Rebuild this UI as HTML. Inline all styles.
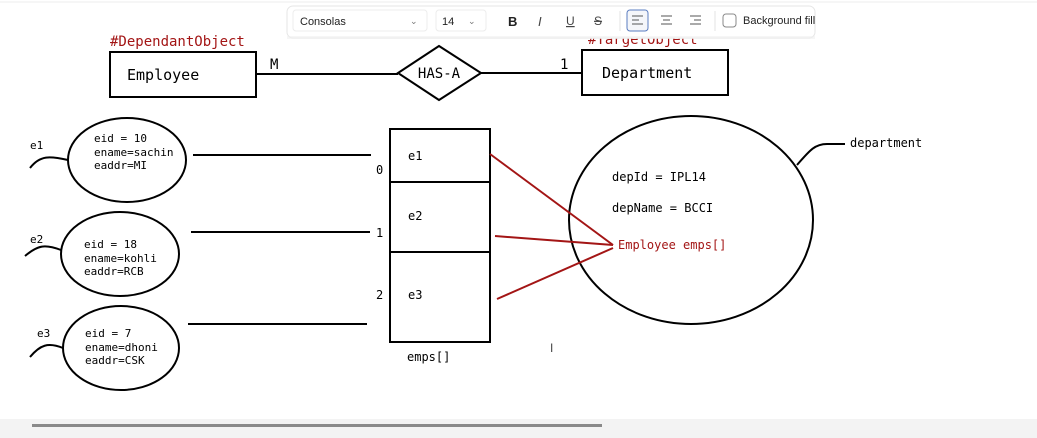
<!DOCTYPE html>
<html><head><meta charset="utf-8"><style>
html,body{margin:0;padding:0;background:#fff;}
svg{display:block;}
.m{font-family:"DejaVu Sans Mono","Liberation Mono",monospace;}
.s{font-family:"Liberation Sans","DejaVu Sans",sans-serif;}
</style></head><body>
<svg width="1037" height="438" viewBox="0 0 1037 438" xmlns="http://www.w3.org/2000/svg">
<rect width="1037" height="438" fill="#fff"/>
<line x1="0" y1="2" x2="1037" y2="2" stroke="#eee"/>
<g class="m" fill="#000" stroke="none">
<text x="110" y="46" font-size="14" fill="#a31515">#DependantObject</text>
<text x="588" y="44" font-size="14" fill="#a31515">#TargetObject</text>
</g>
<g stroke="#000" stroke-width="2" fill="none">
<rect x="110" y="52" width="146" height="45"/>
<line x1="256" y1="74" x2="398" y2="74"/>
<polygon points="398,73 439,46 481,73 439,100"/>
<line x1="481" y1="73" x2="582" y2="73"/>
<rect x="582" y="50" width="146" height="45"/>
<ellipse cx="127" cy="160" rx="59" ry="42"/>
<ellipse cx="120" cy="254" rx="59" ry="42"/>
<ellipse cx="121" cy="348" rx="58" ry="42"/>
<path d="M30,168 C40,155 50,156 68,160"/>
<path d="M25,256 C38,245 45,244 61,250"/>
<path d="M30,357 C40,345 48,342 63,348"/>
<line x1="193" y1="155" x2="371" y2="155"/>
<line x1="191" y1="232" x2="370" y2="232"/>
<line x1="188" y1="324" x2="367" y2="324"/>
<rect x="390" y="129" width="100" height="213"/>
<line x1="390" y1="182" x2="490" y2="182"/>
<line x1="390" y1="252" x2="490" y2="252"/>
<ellipse cx="691" cy="220" rx="122" ry="104"/>
<path d="M797,165 C810,150 815,144 827,144 L845,144"/>
</g>
<g stroke="#a31515" stroke-width="2" fill="none">
<line x1="490" y1="154" x2="613" y2="245"/>
<line x1="495" y1="236" x2="613" y2="245"/>
<line x1="497" y1="299" x2="613" y2="248"/>
</g>
<g class="m" fill="#000">
<text x="127" y="80" font-size="15">Employee</text>
<text x="270" y="69" font-size="14">M</text>
<text x="439" y="78" font-size="14" text-anchor="middle">HAS-A</text>
<text x="560" y="69" font-size="14">1</text>
<text x="602" y="78" font-size="15">Department</text>
<g font-size="11">
<text x="94" y="142">eid = 10</text><text x="94" y="156">ename=sachin</text><text x="94" y="169">eaddr=MI</text>
<text x="84" y="248">eid = 18</text><text x="84" y="262">ename=kohli</text><text x="84" y="275">eaddr=RCB</text>
<text x="85" y="337">eid = 7</text><text x="85" y="351">ename=dhoni</text><text x="85" y="364">eaddr=CSK</text>
<text x="30" y="149">e1</text><text x="30" y="243">e2</text><text x="37" y="337">e3</text>
</g>
<g font-size="12">
<text x="408" y="160">e1</text><text x="408" y="220">e2</text><text x="408" y="299">e3</text>
<text x="376" y="174">0</text><text x="376" y="237">1</text><text x="376" y="299">2</text>
<text x="407" y="361">emps[]</text>
<text x="612" y="181">depId = IPL14</text>
<text x="612" y="212">depName = BCCI</text>
<text x="618" y="249" fill="#a31515">Employee emps[]</text>
<text x="850" y="147">department</text>
</g>
</g>
<text x="550" y="352" font-size="12" class="s" fill="#444">I</text>
<!-- toolbar -->
<rect x="287" y="6" width="528" height="32" rx="6" fill="#fff" stroke="#e6e6e6"/>
<rect x="287" y="36" width="528" height="3" fill="#f0f0f0" opacity="0.6"/>
<g class="s" font-size="11" fill="#222">
<rect x="293" y="10" width="134" height="21" rx="3" fill="#fff" stroke="#ececec"/>
<text x="300" y="25">Consolas</text><text x="410" y="24" font-size="9" fill="#777">⌄</text>
<rect x="436" y="10" width="50" height="21" rx="3" fill="#fff" stroke="#ececec"/>
<text x="442" y="25">14</text><text x="468" y="24" font-size="9" fill="#777">⌄</text>
<text x="508" y="26" font-size="13" font-weight="bold">B</text>
<text x="538" y="26" font-size="13" font-style="italic" fill="#444">I</text>
<text x="566" y="25" font-size="12" text-decoration="underline" fill="#444">U</text>
<text x="594" y="25" font-size="12" text-decoration="line-through" fill="#444">S</text>
<line x1="620" y1="11" x2="620" y2="31" stroke="#e3e3e3"/>
<rect x="627" y="10" width="21" height="21" rx="3" fill="#f4f6fa" stroke="#5a7cc0"/>
<g stroke="#555" stroke-width="1"><line x1="632" y1="16" x2="643" y2="16"/><line x1="632" y1="20" x2="639" y2="20"/><line x1="632" y1="24" x2="643" y2="24"/>
<line x1="661" y1="16" x2="672" y2="16"/><line x1="663" y1="20" x2="670" y2="20"/><line x1="661" y1="24" x2="672" y2="24"/>
<line x1="690" y1="16" x2="701" y2="16"/><line x1="694" y1="20" x2="701" y2="20"/><line x1="690" y1="24" x2="701" y2="24"/></g>
<line x1="715" y1="11" x2="715" y2="31" stroke="#e3e3e3"/>
<rect x="723" y="14" width="13" height="13" rx="3" fill="#fff" stroke="#888"/>
<text x="743" y="24">Background fill</text>
</g>
<!-- bottom scroll -->
<rect x="0" y="419" width="1037" height="19" fill="#f3f3f3"/>
<rect x="32" y="424" width="570" height="3" fill="#8a8a8a"/>
</svg>
</body></html>
